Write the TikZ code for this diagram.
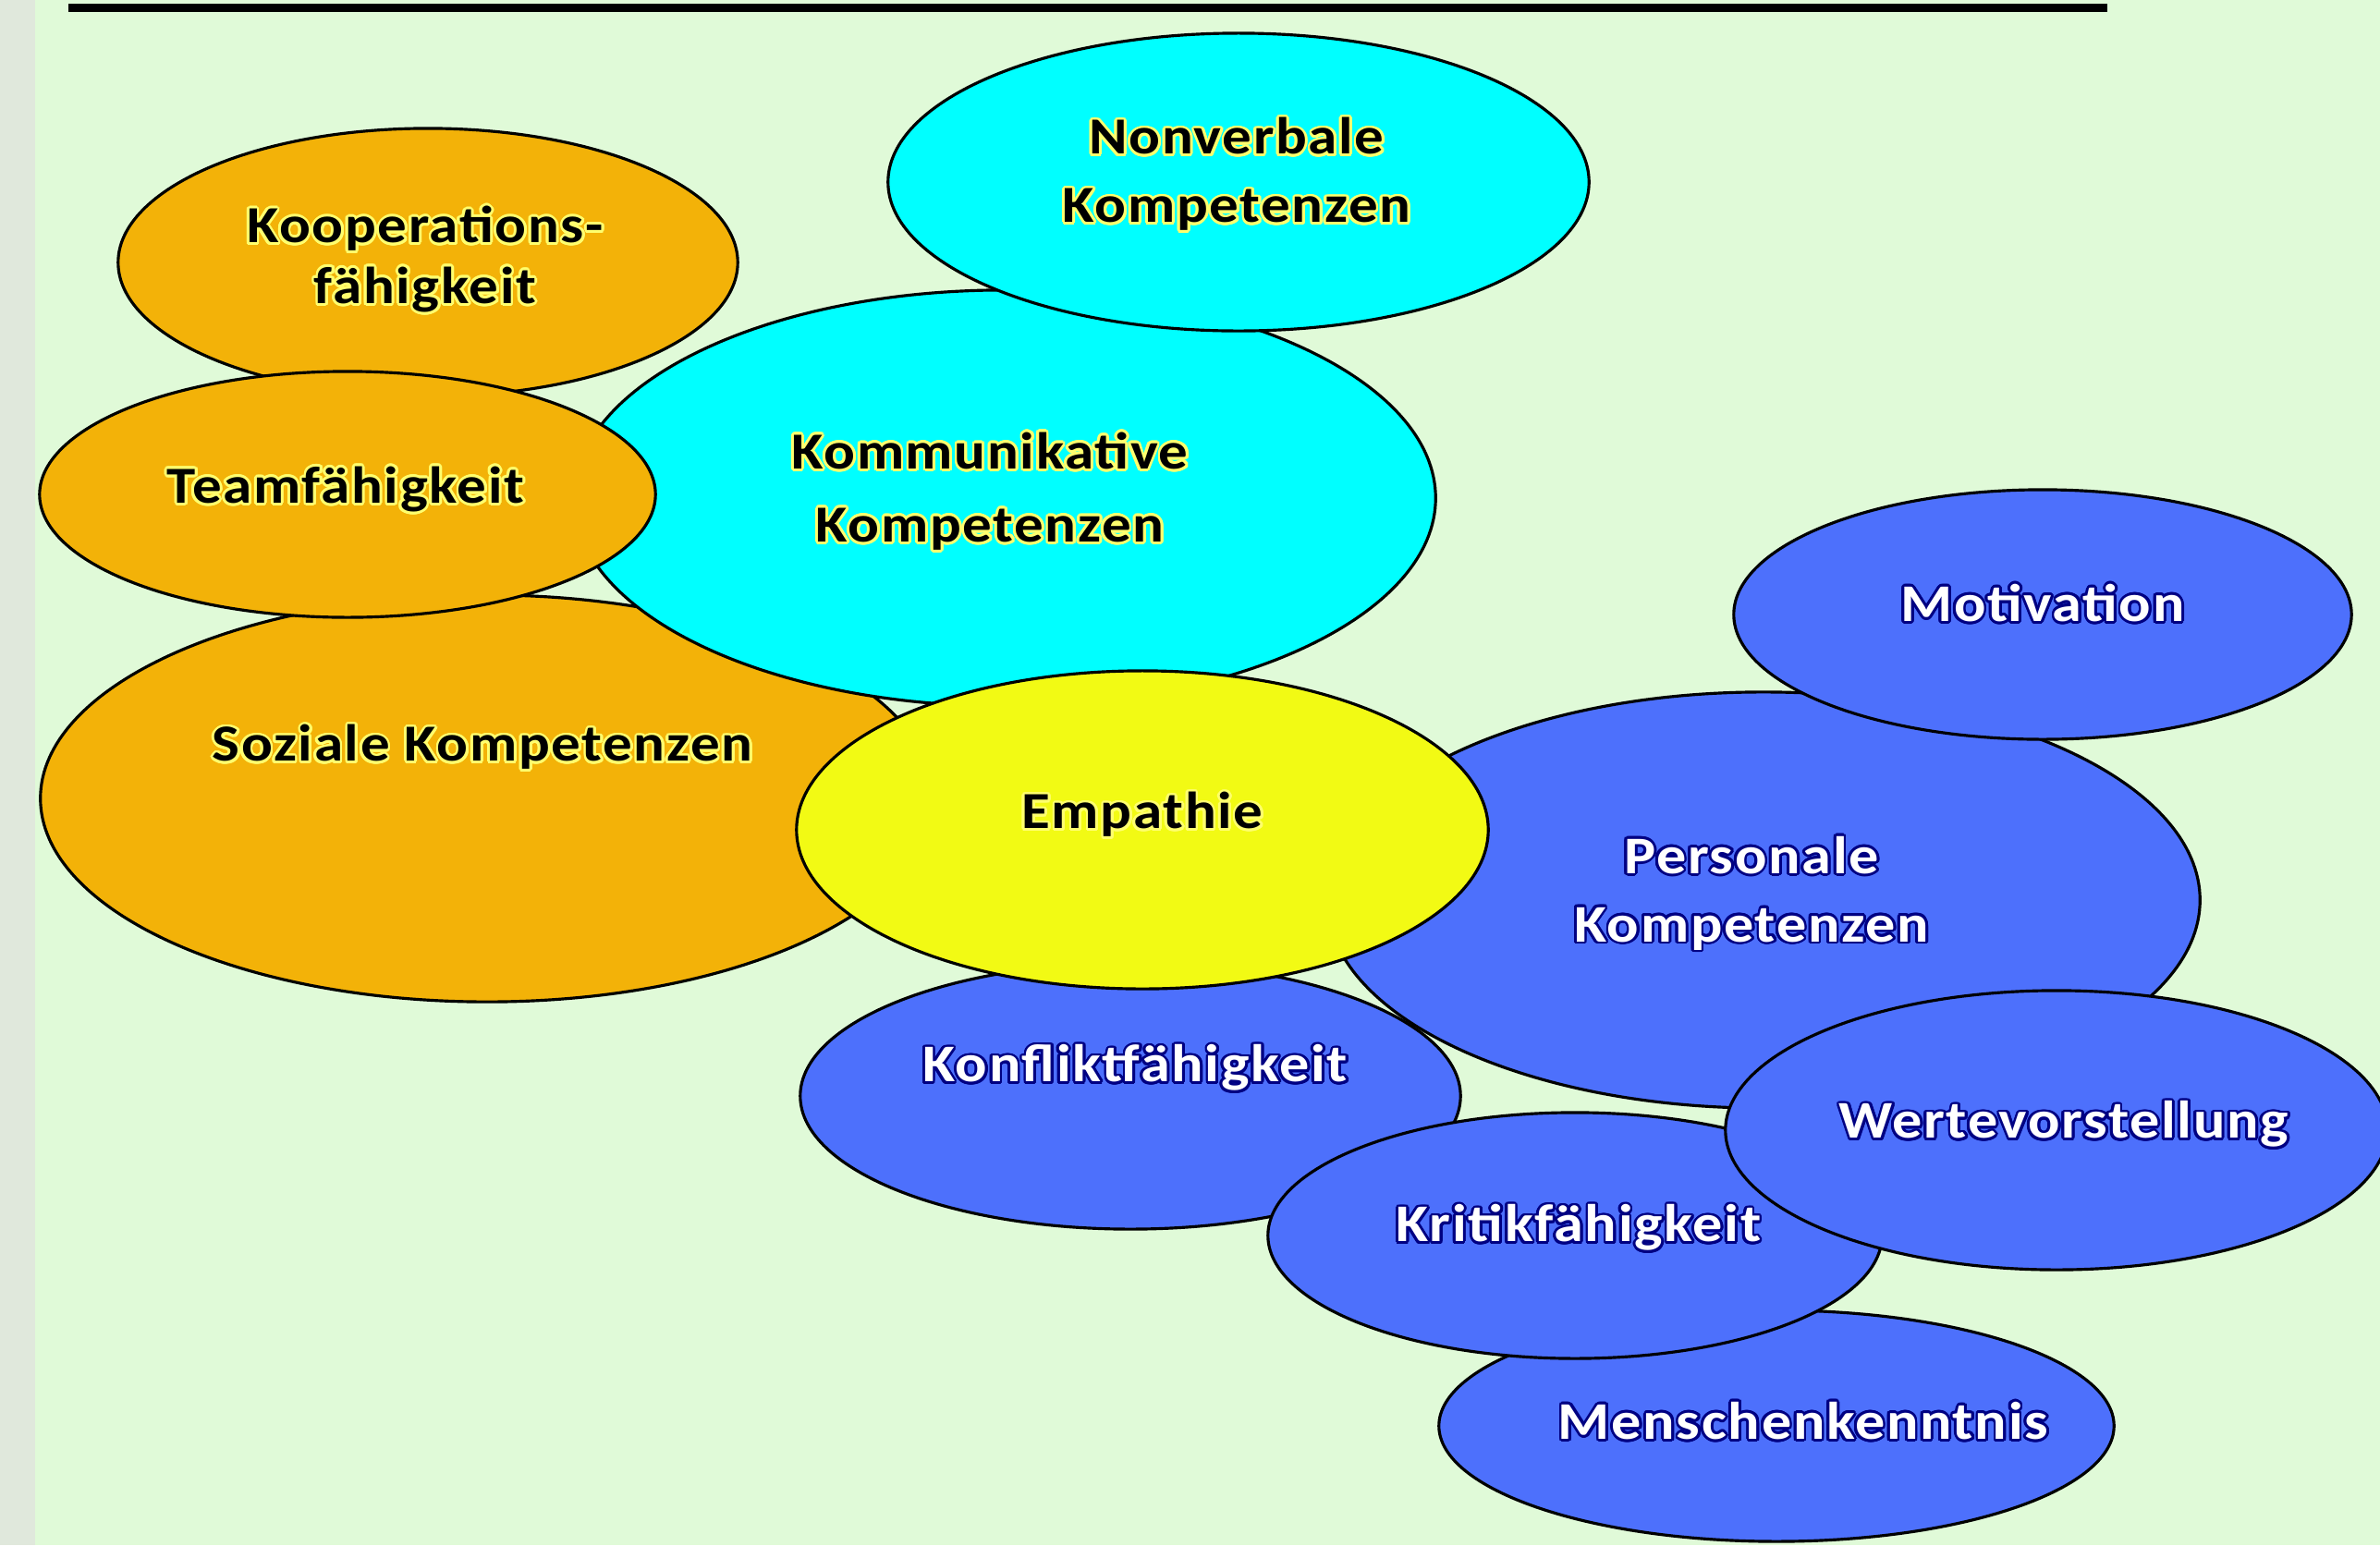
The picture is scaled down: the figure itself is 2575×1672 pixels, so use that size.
\documentclass[tikz,border=0pt]{standalone}
\usepackage{fontspec}
\setmainfont{Carlito}[FakeStretch=1.12,LetterSpace=3]
\usepackage{contour}
\usetikzlibrary{shapes.geometric}
\definecolor{bgfill}{RGB}{224,250,216}
\definecolor{stripfill}{RGB}{224,232,220}
\definecolor{sozfill}{RGB}{243,178,8}
\definecolor{kommfill}{RGB}{0,255,255}
\definecolor{empfill}{RGB}{242,250,20}
\definecolor{persfill}{RGB}{77,112,252}
\definecolor{halolight}{RGB}{255,255,110}
\definecolor{halodark}{RGB}{0,0,130}
\contourlength{0.8pt}
\contournumber{20}
\newcommand\glowy[1]{\contour{halolight}{#1}}
\newcommand\glowb[1]{\contour{halodark}{#1}}

\begin{document}
\begin{tikzpicture}
[x=0.01cm,y=-0.01cm,
blob/.style={ellipse,draw=black,line width=0.9pt,inner sep=0pt},
sozblob/.style={blob,fill=sozfill},
kommblob/.style={blob,fill=kommfill},
empblob/.style={blob,fill=empfill},
persblob/.style={blob,fill=persfill},
darktext/.style={font=\bfseries\fontsize{16}{22.4}\selectfont,align=center,text=black},
lighttext/.style={font=\bfseries\fontsize{16.3}{22.4}\selectfont,align=center,text=white}]
  \useasboundingbox (0,0) rectangle (2575,1672);
  \fill[bgfill] (0,0) rectangle (2575,1672);
  \fill[stripfill] (0,0) rectangle (38,1672);
  \draw[line width=0.09cm] (74,8.5) -- (2280,8.5);
  \node[sozblob,minimum width=6.70cm,minimum height=2.90cm] (koop) at (463,284) {};
  \node[sozblob,minimum width=9.66cm,minimum height=4.40cm] (soz) at (527,864) {};
  \node[kommblob,minimum width=9.32cm,minimum height=4.50cm] (komm) at (1087,539) {};
  \node[sozblob,minimum width=6.66cm,minimum height=2.66cm] (team) at (376,535) {};
  \node[kommblob,minimum width=7.58cm,minimum height=3.22cm] (nonv) at (1340,197) {};
  \node[persblob,minimum width=7.14cm,minimum height=2.88cm] (konf) at (1223,1186) {};
  \node[persblob,minimum width=9.44cm,minimum height=4.50cm] (pers) at (1908,974) {};
  \node[empblob,minimum width=7.48cm,minimum height=3.44cm] (emp) at (1236,898) {};
  \node[persblob,minimum width=6.68cm,minimum height=2.70cm] (motiv) at (2210,665) {};
  \node[persblob,minimum width=7.30cm,minimum height=2.50cm] (mensch) at (1922,1543) {};
  \node[persblob,minimum width=6.64cm,minimum height=2.66cm] (krit) at (1704,1337) {};
  \node[persblob,minimum width=7.16cm,minimum height=3.02cm] (werte) at (2225,1223) {};
  \node[darktext] (koopt) at (460,282) {\glowy{Kooperations-}\\[-3.7pt]\glowy{fähigkeit}};
  \node[darktext] (teamt) at (374,531) {\glowy{Teamfähigkeit}};
  \node[darktext] (sozt) at (522,810) {\glowy{Soziale Kompetenzen}};
  \node[darktext] (kommt) at (1071,533) {\glowy{Kommunikative}\\\glowy{Kompetenzen}};
  \node[darktext] (nonvt) at (1338,190) {\glowy{Nonverbale}\\[-1.4pt]\glowy{Kompetenzen}};
  \node[darktext] (empt) at (1236,883) {\glowy{Empathie}};
  \node[lighttext] (perst) at (1895,968) {\glowb{Personale}\\[-1.4pt]\glowb{Kompetenzen}};
  \node[lighttext] (motivt) at (2210,654) {\glowb{Motivation}};
  \node[lighttext] (konft) at (1228,1157) {\glowb{Konfliktfähigkeit}};
  \node[lighttext] (wertet) at (2233,1218) {\glowb{Wertevorstellung}};
  \node[lighttext] (kritt) at (1708,1330) {\glowb{Kritikfähigkeit}};
  \node[lighttext] (menscht) at (1951,1539) {\glowb{Menschenkenntnis}};
\end{tikzpicture}
\end{document}
